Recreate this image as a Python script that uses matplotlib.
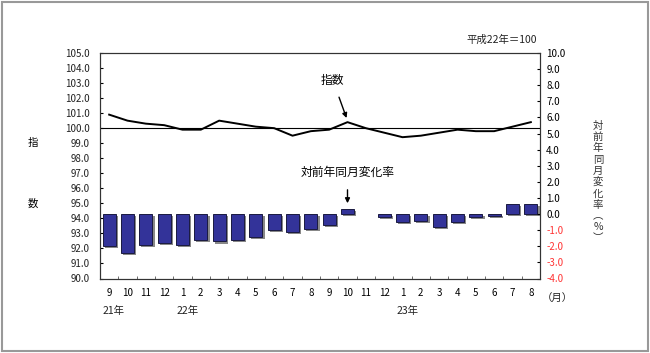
import matplotlib
matplotlib.use("Agg")
import matplotlib.pyplot as plt
import matplotlib.patheffects as pe
from matplotlib.patches import Rectangle
import matplotlib.transforms as mtransforms
import numpy as np

plt.rcParams['font.family'] = ['Noto Sans CJK JP', 'DejaVu Sans']

# months from 21年9月 to 23年8月
months = ["9", "10", "11", "12", "1", "2", "3", "4", "5", "6", "7", "8",
          "9", "10", "11", "12", "1", "2", "3", "4", "5", "6", "7", "8"]
years = [(0, "21年"), (4, "22年"), (16, "23年")]

# 指数 (平成22年=100)
index_vals = [100.9, 100.5, 100.3, 100.2, 99.9, 99.9, 100.5, 100.3, 100.1, 100.0, 99.5, 99.8,
              99.9, 100.4, 100.0, 99.7, 99.4, 99.5, 99.7, 99.9, 99.8, 99.8, 100.1, 100.4]
# 対前年同月変化率 (%)
change_vals = [-2.0, -2.4, -1.9, -1.8, -1.9, -1.6, -1.7, -1.6, -1.4, -1.0, -1.1, -0.9,
               -0.7, 0.3, 0.0, -0.2, -0.5, -0.4, -0.8, -0.5, -0.2, -0.1, 0.6, 0.6]

x = np.arange(len(months))

fig = plt.figure(figsize=(6.5, 3.53), dpi=100)
ax = fig.add_axes([100/650, 1-278.5/353, 440/650, 225.5/353])
ax2 = ax.twinx()

# line (left axis)
ax.plot(x, index_vals, color='black', lw=1.4, zorder=3)
ax.axhline(100, color='black', lw=0.8)
ax.set_ylim(90, 105)
ax.set_yticks(np.arange(90, 105.5, 1))
ax.set_yticklabels([f"{v:.1f}" for v in np.arange(90, 105.5, 1)])
ax.set_xlim(-0.5, len(months) - 0.5)

# bars (right axis)
bars = ax2.bar(x, change_vals, width=0.72, color='#333399', edgecolor='#1a1a40', lw=0.7)
for b, v in zip(bars, change_vals):
    b.set_path_effects([pe.SimplePatchShadow(offset=(1.5, -1.5), shadow_rgbFace='#888888', alpha=1.0),
                        pe.Normal()])
    if v == 0:
        b.set_visible(False)
ax2.set_ylim(-4, 10)
rticks = np.arange(-4, 10.5, 1)
ax2.set_yticks(rticks)
ax2.set_yticklabels([f"{v:.1f}" for v in rticks])
for lab, v in zip(ax2.get_yticklabels(), rticks):
    if v < 0:
        lab.set_color('#ff3333')

# x ticks: labels at centers, tick marks at boundaries
ax.set_xticks(x)
ax.set_xticklabels(months)
ax.set_xticks(np.arange(0.5, len(months) - 0.5, 1), minor=True)
ax.tick_params(axis='x', which='major', length=0, pad=7, labelsize=7)
ax.tick_params(axis='x', which='minor', direction='in', length=2.5, color='#555555')
ax.tick_params(axis='y', direction='in', length=2.5, pad=7.5, labelsize=7, labelcolor='#222222')
ax2.tick_params(axis='y', direction='in', length=2.5, pad=4.5, labelsize=7)

for a in (ax, ax2):
    for s in a.spines.values():
        s.set_linewidth(0.8)
        s.set_color('#333333')

# year labels under months
trans = mtransforms.blended_transform_factory(ax.transData, ax.transAxes)
for i, y in years:
    ax.text(i - 0.35, -0.145, y, transform=trans, ha='left', va='center', fontsize=7.5, color='#222222')
ax.text(1.04, -0.085, "（月）", transform=ax.transAxes, ha='center', va='center', fontsize=7.5, color='#222222')

# annotations
ax.annotate("指数", xy=(13, index_vals[13] + 0.1), xytext=(12.2, 103.2),
            ha='center', va='center', fontsize=8.5,
            arrowprops=dict(arrowstyle='-|>', color='black', lw=1.0, mutation_scale=7, shrinkA=6))
ax2.annotate("対前年同月変化率", xy=(13, change_vals[13] + 0.2), xytext=(13, 2.6),
             ha='center', va='center', fontsize=8.5,
             arrowprops=dict(arrowstyle='-|>', color='black', lw=1.0, mutation_scale=7, shrinkA=6))

fig.text(537/650, 1-40/353, "平成22年＝100", ha='right', va='center', fontsize=7.5, color='#222222')

# axis titles
fig.text(33/650, 1-143/353, "指", ha='center', va='center', fontsize=7.5)
fig.text(33/650, 1-204/353, "数", ha='center', va='center', fontsize=7.5)
fig.text(598/650, 1-182/353, "対\n前\n年\n同\n月\n変\n化\n率\n︵\n%\n︶", ha='center', va='center',
         fontsize=7.5, linespacing=1.15, color='#333333')

# outer frame
fig.patches.append(Rectangle((0.003, 0.005), 0.994, 0.99, transform=fig.transFigure,
                             fill=False, edgecolor='#999999', lw=1.5))

fig.savefig("out.png", dpi=100)
